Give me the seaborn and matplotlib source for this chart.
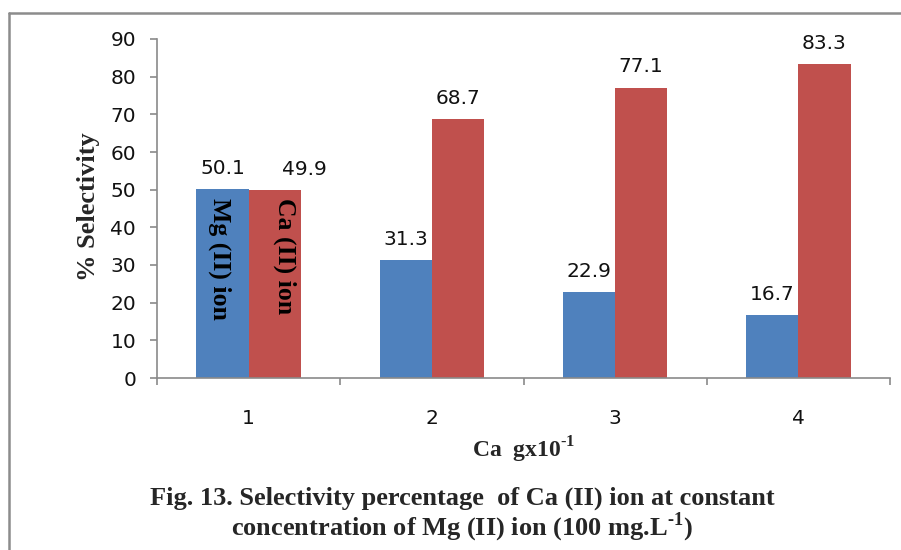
import matplotlib
matplotlib.use("Agg")
import matplotlib.pyplot as plt
import seaborn as sns
import pandas as pd
from matplotlib.lines import Line2D
from matplotlib.ticker import FixedLocator

categories = ["1", "2", "3", "4"]
mg_values = [50.1, 31.3, 22.9, 16.7]
ca_values = [49.9, 68.7, 77.1, 83.3]
series_names = ["Mg (II) ion", "Ca (II) ion"]
colors = ["#4F81BD", "#C0504D"]
y_ticks = [0, 10, 20, 30, 40, 50, 60, 70, 80, 90]

df = pd.DataFrame({
    "cat": categories * 2,
    "val": mg_values + ca_values,
    "ion": [series_names[0]] * 4 + [series_names[1]] * 4,
})

sns.set_theme(style="white")
plt.rcParams["font.family"] = ["DejaVu Sans"]
plt.rcParams["mathtext.fontset"] = "custom"
plt.rcParams["mathtext.rm"] = "Liberation Serif:bold"
plt.rcParams["mathtext.bf"] = "Liberation Serif:bold"

fig = plt.figure(figsize=(9.01, 5.5), dpi=100)
ax = fig.add_axes([157 / 901, 1 - 378 / 550, (890 - 157) / 901, (378 - 39) / 550])

sns.barplot(data=df, x="cat", y="val", hue="ion", order=categories,
            hue_order=series_names, palette=colors, width=0.57,
            saturation=1, legend=False, ax=ax, edgecolor="none")

ax.set_xlim(-0.5, 3.5)
ax.set_ylim(0, 90)
ax.set_yticks(y_ticks)
ax.set_yticklabels([str(v) for v in y_ticks])

axis_gray = "#8a8a8a"
for s in ["top", "right"]:
    ax.spines[s].set_visible(False)
for s in ["left", "bottom"]:
    ax.spines[s].set_color(axis_gray)
    ax.spines[s].set_linewidth(1.2)

ax.tick_params(axis="y", which="major", direction="out", length=5, width=1.2,
               color=axis_gray, labelsize=14.5, labelcolor="#111111", pad=10, left=True)
ax.xaxis.set_minor_locator(FixedLocator([-0.5, 0.5, 1.5, 2.5, 3.5]))
ax.tick_params(axis="x", which="minor", direction="out", length=5, width=1.2,
               color=axis_gray, bottom=True)
ax.tick_params(axis="x", which="major", length=0, labelsize=14.5,
               labelcolor="#111111", pad=22)

serif_bold = dict(family="Liberation Serif", weight="bold")

ax.set_ylabel("% Selectivity", fontsize=19, **serif_bold)
ax.yaxis.set_label_coords(-0.078, 0.505)
ax.set_xlabel("Ca  gx10$^{\\mathregular{\u20101}}$", fontsize=17, **serif_bold)
ax.xaxis.set_label_coords(0.5, -0.168)
ax.xaxis.label.set_verticalalignment("top")

all_labels = []
for container in ax.containers:
    all_labels.append(ax.bar_label(container, fmt="%.1f", padding=8,
                                   fontsize=14.5, color="#111111"))
# first Ca label is shifted right in the reference
ann = all_labels[1][0]
ann.xyann = (ann.xyann[0] + 21, ann.xyann[1])

# labels inside first group's bars
first_mg = ax.containers[0][0]
first_ca = ax.containers[1][0]
ax.text(first_mg.get_x() + first_mg.get_width() / 2 - 0.015, 47.9, series_names[0],
        rotation=270, ha="center", va="top", fontsize=18.5, color="black", **serif_bold)
ax.text(first_ca.get_x() + first_ca.get_width() / 2 + 0.055, 47.9, series_names[1],
        rotation=270, ha="center", va="top", fontsize=18.5, color="black", **serif_bold)

fig.text(462 / 901, 1 - 498 / 550,
         "Fig. 13. Selectivity percentage  of Ca (II) ion at constant",
         ha="center", va="center", fontsize=19, **serif_bold)
fig.text(462 / 901, 1 - 527 / 550,
         "concentration of Mg (II) ion (100 mg.L$^{\\mathregular{\u20101}}$)",
         ha="center", va="center", fontsize=19, **serif_bold)

border = "#8c8c8c"
fig.add_artist(Line2D([8.5 / 901, 8.5 / 901], [0, 1 - 13 / 550], color=border, lw=1.8,
                      transform=fig.transFigure))
fig.add_artist(Line2D([8.5 / 901, 1], [1 - 13 / 550, 1 - 13 / 550], color=border, lw=1.8,
                      transform=fig.transFigure))

fig.savefig("out.png", dpi=100)
